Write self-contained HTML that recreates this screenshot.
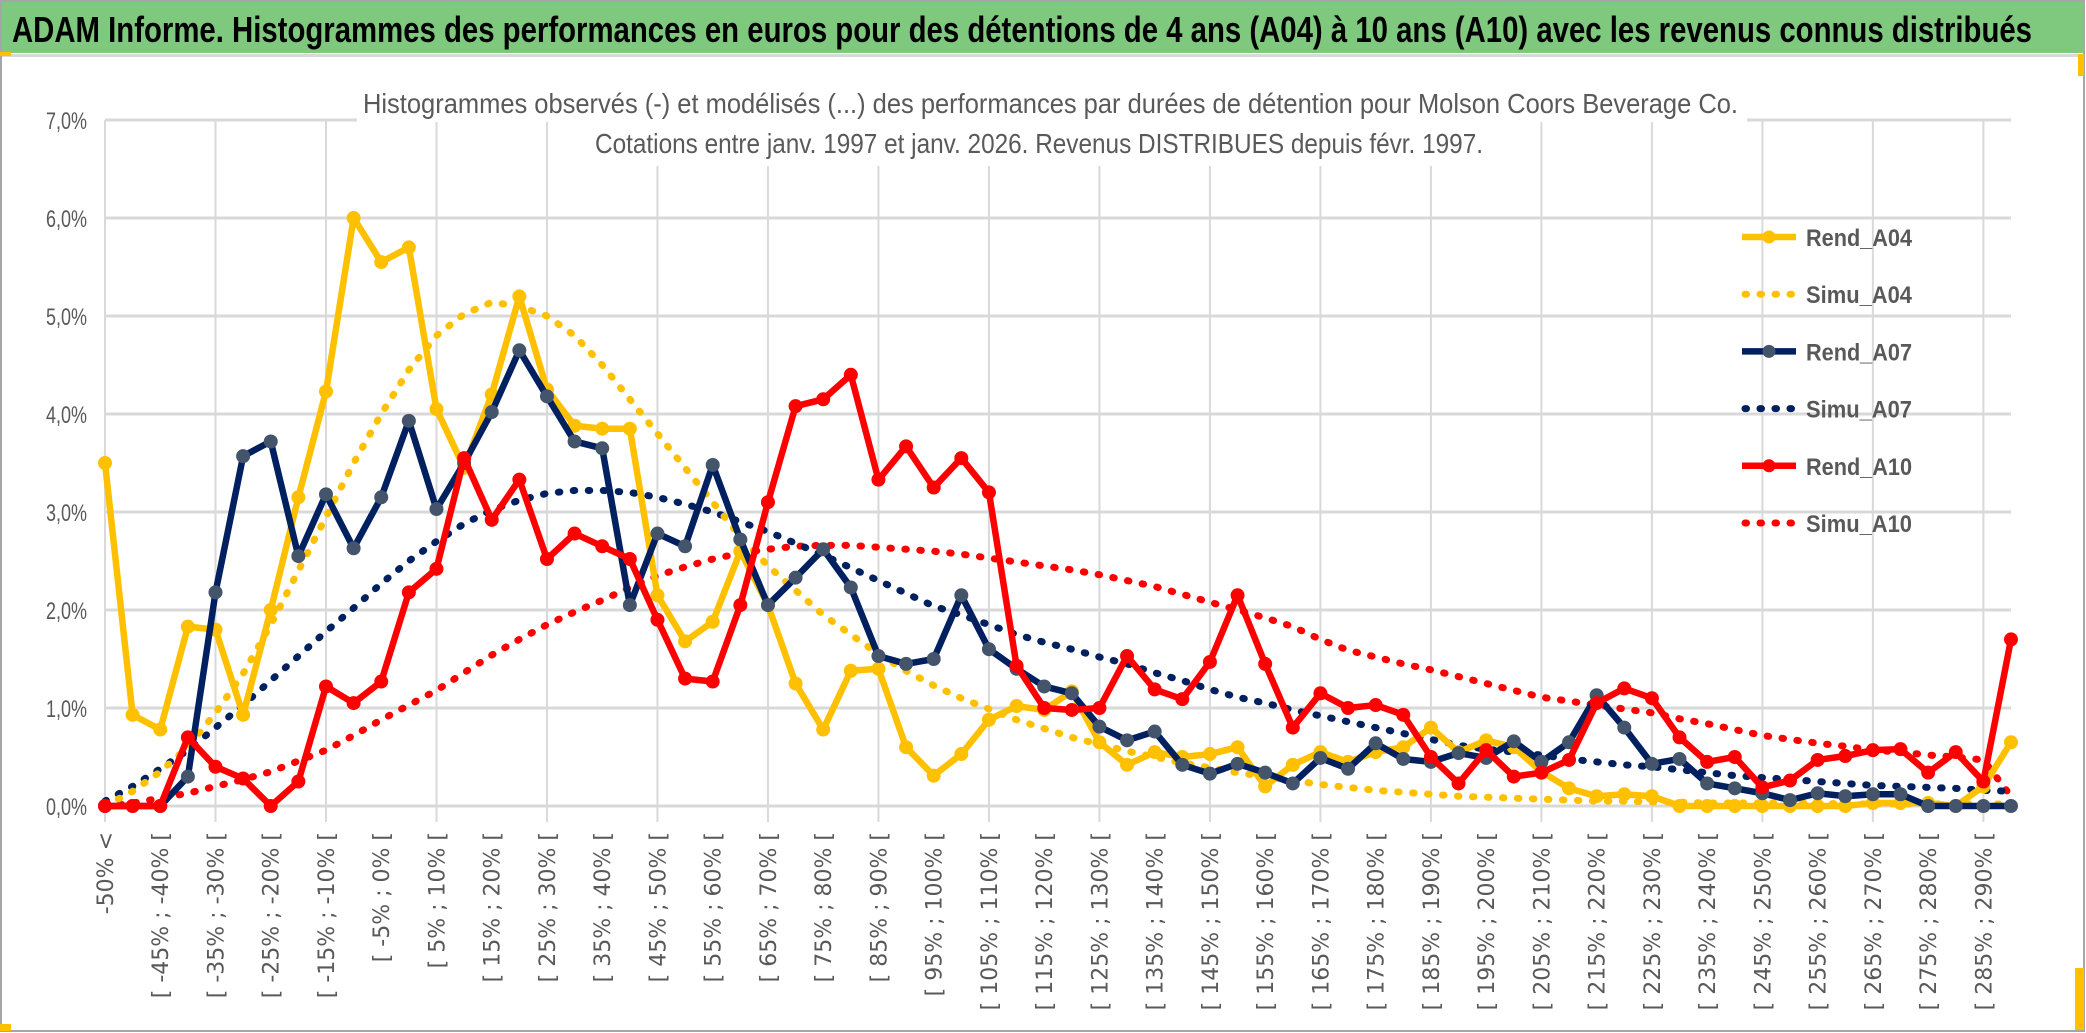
<!DOCTYPE html>
<html><head><meta charset="utf-8"><style>
html,body{margin:0;padding:0;background:#fff;}
svg{display:block;}
</style></head><body>
<svg id="chart" width="2086" height="1033" viewBox="0 0 2086 1033" xmlns="http://www.w3.org/2000/svg">
  <rect x="0" y="0" width="2086" height="1033" fill="#fff"/>
  <rect x="1" y="1" width="2083" height="1030" fill="none" stroke="#a6a6a6" stroke-width="2"/>
  <rect x="2" y="2" width="2082" height="51" fill="#7fc97f"/>
  <rect x="2" y="54" width="2082" height="3" fill="#d9d9d9"/>
  <rect x="0" y="52" width="11" height="4" fill="#ffc000"/>
  <rect x="0" y="1024" width="11" height="7" fill="#ffc000"/>
  <rect x="2078" y="54" width="6" height="22" fill="#ffc000"/>
  <rect x="2075" y="968" width="9" height="62" fill="#ffc000"/>
  <text x="12" y="42" font-family="Liberation Sans, sans-serif" font-weight="bold" font-size="36" fill="#000" textLength="2020" lengthAdjust="spacingAndGlyphs">ADAM Informe. Histogrammes des performances en euros pour des détentions de 4 ans (A04) à 10 ans (A10) avec les revenus connus distribués</text>
  <g id="grid"></g>
  <g id="series"></g>
  <rect x="357" y="82" width="1390" height="40" fill="#fff"/>
  <rect x="588" y="122" width="902" height="44" fill="#fff"/>
  <text x="363" y="113" font-family="Liberation Sans, sans-serif" font-size="28" fill="#595959" textLength="1375" lengthAdjust="spacingAndGlyphs">Histogrammes observés (-) et modélisés (...) des performances par durées de détention pour Molson Coors Beverage Co.</text>
  <text x="595" y="153" font-family="Liberation Sans, sans-serif" font-size="28" fill="#595959" textLength="888" lengthAdjust="spacingAndGlyphs">Cotations entre janv. 1997 et janv. 2026. Revenus DISTRIBUES depuis févr. 1997.</text>
  <g id="yaxis"></g>
  <g id="xaxis"></g>
  <g id="legend"></g>
</svg>
<script>
const yTicks = [0,1,2,3,4,5,6,7];
const yTickLabels = ["0,0%","1,0%","2,0%","3,0%","4,0%","5,0%","6,0%","7,0%"];
const seriesNames = ["Rend_A04","Simu_A04","Rend_A07","Simu_A07","Rend_A10","Simu_A10"];
const rendA04 = [3.5,0.93,0.78,1.83,1.8,0.93,2.0,3.15,4.23,6.0,5.55,5.7,4.05,3.45,4.2,5.2,4.25,3.88,3.85,3.85,2.15,1.68,1.88,2.6,2.05,1.25,0.78,1.38,1.4,0.6,0.31,0.53,0.88,1.02,0.98,1.17,0.65,0.42,0.55,0.5,0.53,0.6,0.2,0.42,0.55,0.45,0.55,0.6,0.8,0.55,0.67,0.6,0.35,0.18,0.1,0.12,0.1,0,0,0,0,0,0,0,0.03,0.03,0.03,0,0.2,0.65];
const simuA04 = [0,0.15,0.35,0.6,0.95,1.35,1.85,2.4,2.95,3.5,4.0,4.45,4.8,5.02,5.14,5.1,5.0,4.8,4.5,4.15,3.8,3.45,3.1,2.75,2.45,2.2,1.95,1.75,1.55,1.38,1.23,1.1,0.99,0.88,0.79,0.7,0.63,0.56,0.5,0.44,0.39,0.34,0.3,0.26,0.22,0.19,0.16,0.14,0.12,0.1,0.09,0.08,0.07,0.06,0.05,0.05,0.04,0.04,0.03,0.03,0.03,0.03,0.03,0.02,0.02,0.02,0.02,0.02,0.02,0.02];
const rendA07 = [0,0,0,0.3,2.18,3.57,3.72,2.55,3.18,2.63,3.15,3.93,3.03,3.5,4.02,4.65,4.18,3.72,3.65,2.05,2.78,2.65,3.48,2.72,2.05,2.33,2.62,2.23,1.53,1.45,1.5,2.15,1.6,1.4,1.22,1.15,0.81,0.67,0.76,0.42,0.33,0.43,0.34,0.23,0.49,0.38,0.64,0.48,0.45,0.54,0.49,0.66,0.45,0.65,1.13,0.8,0.43,0.48,0.23,0.18,0.13,0.06,0.13,0.1,0.12,0.12,0,0,0,0];
const simuA07 = [0.05,0.2,0.38,0.57,0.8,1.03,1.28,1.53,1.78,2.02,2.27,2.5,2.7,2.88,3.02,3.12,3.19,3.22,3.22,3.2,3.15,3.08,3.0,2.9,2.8,2.68,2.56,2.43,2.3,2.17,2.04,1.95,1.85,1.75,1.67,1.6,1.52,1.45,1.36,1.28,1.19,1.11,1.05,0.98,0.92,0.86,0.8,0.74,0.68,0.62,0.58,0.55,0.52,0.48,0.45,0.42,0.4,0.37,0.34,0.31,0.29,0.27,0.25,0.23,0.21,0.2,0.19,0.18,0.16,0.15];
const rendA10 = [0,0,0,0.7,0.4,0.28,0,0.25,1.22,1.05,1.27,2.18,2.42,3.55,2.92,3.33,2.52,2.78,2.65,2.52,1.9,1.3,1.27,2.05,3.1,4.08,4.15,4.4,3.33,3.67,3.25,3.55,3.2,1.43,1.0,0.98,1.0,1.53,1.19,1.09,1.47,2.15,1.45,0.8,1.15,1.0,1.03,0.93,0.5,0.23,0.57,0.3,0.34,0.47,1.05,1.2,1.1,0.7,0.45,0.5,0.19,0.26,0.47,0.51,0.57,0.58,0.34,0.55,0.25,1.7];
const simuA10 = [0,0.03,0.08,0.13,0.2,0.27,0.35,0.46,0.57,0.72,0.88,1.03,1.18,1.36,1.54,1.7,1.85,1.98,2.1,2.23,2.35,2.44,2.52,2.58,2.62,2.65,2.66,2.66,2.64,2.62,2.6,2.57,2.53,2.49,2.45,2.41,2.36,2.3,2.24,2.16,2.08,2.0,1.92,1.83,1.7,1.59,1.52,1.45,1.39,1.32,1.25,1.18,1.11,1.07,1.03,0.99,0.95,0.89,0.84,0.78,0.72,0.68,0.64,0.61,0.57,0.55,0.52,0.5,0.47,0.1];
const categories = ["-50% <"];
for (let i = 1; i < 70; i++) categories.push(i % 2 === 0 ? "[ " + (-45 + (i - 2) * 5) + "% ; " + (-40 + (i - 2) * 5) + "% [" : "");

const NS = "http://www.w3.org/2000/svg";
const X0 = 105, X1 = 2011, Y0 = 806, PXPER = 98;
const N = categories.length;
function xScale(i){ return X0 + i * (X1 - X0) / (N - 1); }
function yScale(v){ return Y0 - v * PXPER; }
function mk(tag, attrs, parent){ const e = document.createElementNS(NS, tag); for (const k in attrs) e.setAttribute(k, attrs[k]); parent.appendChild(e); return e; }

const grid = document.getElementById('grid');
yTicks.forEach((t, k) => {
  const l = mk('line', {x1: X0, x2: X1, y1: yScale(t), y2: yScale(t), stroke: '#d9d9d9', 'stroke-width': 3}, grid);
  
  
});
for (let i = 0; i < N; i += 4) {
  const l = mk('line', {x1: xScale(i), x2: xScale(i), y1: yScale(7), y2: Y0 + 16, stroke: '#d9d9d9', 'stroke-width': 2}, grid);
  
  
}

const yaxis = document.getElementById('yaxis');
yTicks.forEach((t, k) => {
  const tx = mk('text', {x: 87, y: yScale(t) + 9, 'text-anchor': 'end', 'font-family': 'Liberation Sans, sans-serif', 'font-size': 24, fill: '#595959', textLength: 41, lengthAdjust: 'spacingAndGlyphs'}, yaxis);
  tx.textContent = yTickLabels[k];
  
  
});

const xaxis = document.getElementById('xaxis');
categories.forEach((c, i) => {
  if (!c) return;
  const x = xScale(i) + 8;
  const tx = mk('text', {x: 0, y: 0, transform: 'translate(' + x + ',832) rotate(-90)', 'text-anchor': 'end', 'font-family': 'DejaVu Sans, sans-serif', 'font-size': 22, fill: '#595959'}, xaxis);
  tx.textContent = c;
  
  
});

const seriesLayer = document.getElementById('series');
function pts(arr){ return arr.map((v, i) => xScale(i) + ',' + yScale(v)).join(' '); }
function dotted(arr, color, name){
  const p = mk('polyline', {points: pts(arr), fill: 'none', stroke: color, 'stroke-width': 7, 'stroke-linecap': 'round', 'stroke-dasharray': '1.5 13.5'}, seriesLayer);
  
  
}
function solid(arr, color, mcolor, name){
  const g = mk('g', {}, seriesLayer);
  
  
  mk('polyline', {points: pts(arr), fill: 'none', stroke: color, 'stroke-width': 6.5, 'stroke-linejoin': 'round'}, g);
  arr.forEach((v, i) => {
    const c = mk('circle', {cx: xScale(i), cy: yScale(v), r: 6.5, fill: mcolor, stroke: mcolor}, g);
    
    
  });
}
dotted(simuA10, '#ff0000', 'simu-a10-line');
dotted(simuA07, '#002060', 'simu-a07-line');
dotted(simuA04, '#ffc000', 'simu-a04-line');
solid(rendA04, '#ffc000', '#ffc000', 'rend-a04-line');
solid(rendA07, '#002060', '#44546a', 'rend-a07-line');
solid(rendA10, '#ff0000', '#ff0000', 'rend-a10-line');

const legend = document.getElementById('legend');
const legColors = ['#ffc000','#ffc000','#002060','#002060','#ff0000','#ff0000'];
const legMarker = ['#ffc000',null,'#44546a',null,'#ff0000',null];
seriesNames.forEach((n, k) => {
  const y = 237 + k * 57.2;
  const g = mk('g', {}, legend);
  
  
  if (legMarker[k]) {
    mk('line', {x1: 1742, x2: 1796, y1: y, y2: y, stroke: legColors[k], 'stroke-width': 6.5}, g);
    mk('circle', {cx: 1769, cy: y, r: 6.5, fill: legMarker[k]}, g);
  } else {
    mk('line', {x1: 1745, x2: 1796, y1: y, y2: y, stroke: legColors[k], 'stroke-width': 7, 'stroke-linecap': 'round', 'stroke-dasharray': '1.5 13.5'}, g);
  }
  const t = mk('text', {x: 1806, y: y + 9, 'font-family': 'Liberation Sans, sans-serif', 'font-weight': 'bold', 'font-size': 24, fill: '#595959', textLength: 106, lengthAdjust: 'spacingAndGlyphs'}, g);
  t.textContent = n;
});
</script>
</body></html>
